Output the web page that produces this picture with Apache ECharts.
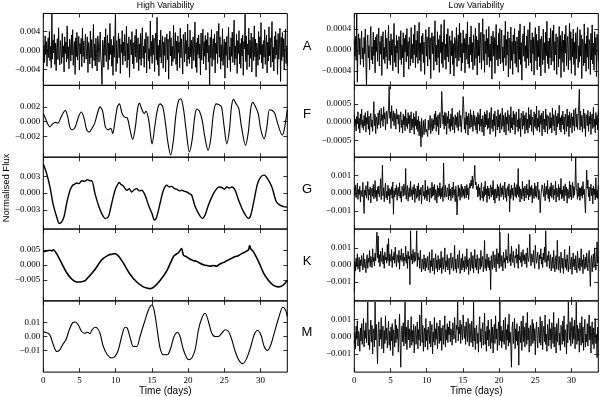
<!DOCTYPE html>
<html>
<head>
<meta charset="utf-8">
<script src="https://cdn.jsdelivr.net/npm/echarts@6/dist/echarts.min.js"></script>
<style>
html, body { margin: 0; padding: 0; background: #fff; }
#main { width: 600px; height: 397px; }
</style>
</head>
<body>
<div id="main"></div>
<script>
// time span of the light curves (days)
var T_END = 33.7;
var xTicks = [0, 5, 10, 15, 20, 25, 30];

// High variability, star A: noise, evenly sampled, units of 1e-4
var highA = [
  -64, 12, -25, 31, -8, 19, -33, 4, 27, -15, 40, -21, 9, -36, 78, -18, 22, -5, 34, -29,
  16, -42, 7, 25, -19, 48, -11, -30, 21, 3, -27, 36, -14, 10, -45, 29, -6, 18, -24, 52,
  -17, 8, -38, 24, 13, -22, 33, -9, 44, -31, 2, 19, -50, 27, -13, 38, -20, 6, 30, -41,
  15, -7, 26, -34, 47, -12, 20, -26, 11, 35, -18, -3, 29, -46, 17, 4, -28, 41, -15, 23,
  -37, 9, 55, -21, 14, -32, 26, -6, -43, 31, 18, -24, 7, 39, -16, -29, -71, 22, 12, -35,
  28, -10, 46, -23, 5, 33, -40, 16, -19, 57, -8, 24, -33, 11, -52, 30, -14, 20, 80, -44,
  21, -27, 3, 37, -15, 25, -48, 13, -4, 42, -30, 18, -11, 34, -22, 8, 51, -36, 15, -19,
  29, -56, 10, 23, -9, 40, -28, 17, -38, 6, 32, -13, 45, -25, 2, 27, -42, 14, -18, 36,
  -31, 20, 48, -16, 9, -35, 24, -5, 38, -47, 13, 30, -21, 4, -39, 62, -12, 19, -27, 33,
  -8, 26, -44, 15, 37, -20, 70, -30, 11, -53, 22, -14, 43, -26, 7, 31, -37, 18, -10, 28,
  -45, 12, 35, -19, 24, -60, 16, 41, -11, 27, -32, 9, -23, 53, -17, 6, 38, -29, 20, -42,
  31, -4, 18, -36, 47, -15, 25, -9, -49, 34, 12, -24, 39, -7, 21, -33, 56, -18, 8, -27,
  43, -13, 22, -38, 10, 29, -21, 4, 60, -35, 17, -46, 26, -8, 33, -16, 14, -51, 37, -20,
  9, 45, -28, 19, -12, 32, -41, 23, -5, 38, -24, 11, -75, 28, -15, 44, -33, 7, 25, -19,
  35, -47, 16, -6, 41, -27, 20, 57, -14, 29, -39, 12, -22, 46, -31, 3, 24, -58, 18, -10,
  30, -36, 13, 49, -20, 8, -44, 27, -12, 39, -25, 17, 64, -30, 10, -17, 35, -48, 21, -6,
  42, -28, 15, -37, 26, -11, 33, -52, 19, 4, 78, -23, 31, -40, 14, -9, 47, -34, 22, -16,
  37, -45, 10, 28, -21, 52, -13, 24, -55, 16, 6, -31, 40, -19, 29, -8, 59, -26, 13, -38,
  21, -14, 44, -29, 9, 33, -47, 18, -22, 50, -11, 27, -35, 15, 61, -24, 7, -43, 30, -17,
  40, -9, 23, -50, 36, -18, 12, 47, -65, 28, -21, 38, -13, 25, -40, 16, 45, -27, 10, -33
];

// High variability F, G, K, M: [day, flux in 1e-4]
var highF = [
  [0,11],[0.23,6],[0.55,-2],[0.92,-7],[1.29,-3],[1.66,-1],[2.03,-2],[2.4,5],[2.76,12],[3.04,15],
  [3.36,7],[3.69,-8],[4.06,-11],[4.42,-7],[4.88,7],[5.25,13],[5.62,5],[5.99,-11],[6.36,-14],[6.73,-9],
  [7.1,-2],[7.47,11],[7.83,20],[8.2,14],[8.57,-7],[8.94,-11],[9.31,-9],[9.59,-16],[9.86,-2],[10.23,20],
  [10.51,24],[10.88,11],[11.24,6],[11.61,5],[11.98,-11],[12.35,-24],[12.72,-7],[13.0,16],[13.27,25],[13.64,16],
  [13.92,11],[14.19,14],[14.56,2],[14.84,-20],[15.02,-30],[15.39,-7],[15.76,16],[16.13,24],[16.5,20],[16.87,-2],
  [17.24,-30],[17.6,-45],[17.97,-25],[18.34,11],[18.71,29],[18.99,31],[19.35,18],[19.72,-11],[20.18,-41],[20.55,-25],
  [20.92,7],[21.2,17],[21.57,14],[21.94,2],[22.3,-20],[22.76,-39],[23.13,-23],[23.5,11],[23.87,24],[24.24,23],
  [24.61,20],[24.98,-7],[25.35,-30],[25.71,-11],[25.99,20],[26.27,30],[26.64,24],[27.0,18],[27.37,-7],[27.93,-32],
  [28.29,-16],[28.66,18],[28.94,26],[29.31,20],[29.68,11],[30.05,-11],[30.51,-23],[30.88,-7],[31.24,16],[31.61,15],
  [31.98,11],[32.35,-2],[33.0,-18],[33.27,-11],[33.7,16]
];
var highG = [
  [0,52],[0.46,35],[0.92,11],[1.38,-21],[1.84,-42],[2.21,-54],[2.49,-52],[2.86,-42],[3.23,-18],[3.69,5],
  [4.06,14],[4.35,16],[4.61,18],[4.95,17],[5.3,22],[5.7,21],[6.08,24],[6.4,22],[6.68,22],[7.14,-1],
  [7.6,-21],[8.06,-36],[8.53,-45],[8.99,-42],[9.45,-18],[9.91,5],[10.2,14],[10.5,19],[10.75,15],[10.97,14],
  [11.25,9],[11.52,5],[11.85,8],[12.21,2],[12.55,6],[12.9,8],[13.25,4],[13.59,5],[14.06,-4],[14.52,-21],
  [15.0,-36],[15.35,-48],[15.67,-42],[16.13,-18],[16.59,5],[17.05,14],[17.4,11],[17.74,12],[18.1,8],[18.43,7],
  [18.8,4],[19.12,5],[19.5,3],[19.82,2],[20.2,-1],[20.51,-4],[20.97,-24],[21.57,-39],[21.94,-45],[22.35,-39],
  [22.81,-21],[23.5,-1],[23.96,8],[24.3,11],[24.65,10],[25.0,7],[25.35,11],[25.7,9],[26.04,11],[26.5,5],
  [26.96,-12],[27.65,-33],[28.34,-45],[28.66,-39],[29.12,-12],[29.59,17],[30.05,29],[30.51,32],[30.97,26],[31.57,11],
  [32.17,-15],[32.63,-21],[33.18,-24],[33.7,-25]
];
var highK = [
  [0,44],[0.46,47],[0.92,49],[1.2,47],[1.38,51],[1.84,38],[2.53,6],[3.23,-26],[3.92,-47],[4.4,-55],
  [4.84,-57],[5.44,-55],[5.8,-52],[6.22,-41],[7.14,-15],[8.06,17],[8.99,33],[9.5,36],[9.91,38],[10.37,30],
  [11.06,6],[11.98,-31],[12.9,-57],[13.82,-73],[14.3,-77],[14.75,-79],[15.3,-73],[16.13,-52],[17.05,-20],[17.97,28],
  [18.3,35],[18.66,41],[19.1,55],[19.35,33],[19.8,27],[20.28,19],[20.7,15],[21.2,12],[21.7,5],[22.12,1],
  [22.6,-2],[23.04,-4],[23.5,-2],[23.96,-4],[24.3,2],[24.65,6],[25.1,11],[25.58,17],[26.0,22],[26.5,28],
  [26.95,31],[27.42,38],[27.9,44],[28.34,51],[28.5,65],[28.66,54],[29.03,44],[29.72,12],[30.41,-26],[31.11,-52],
  [31.8,-68],[32.49,-73],[33.09,-68],[33.7,-52]
];
var highM = [
  [0,35],[0.2,30],[0.37,28],[0.69,23],[1.01,0],[1.38,-58],[1.84,-105],[2.21,-98],[2.67,-58],[3.13,-23],
  [3.59,47],[4.06,98],[4.42,102],[4.84,81],[5.3,35],[5.76,23],[6.0,30],[6.22,28],[6.45,20],[6.68,42],
  [7.14,65],[7.47,58],[7.83,23],[8.29,-70],[8.85,-128],[9.45,-151],[9.91,-140],[10.37,-93],[10.83,0],[11.29,65],
  [11.61,58],[12.07,-23],[12.44,-70],[12.9,-70],[13.36,0],[13.92,93],[14.52,186],[14.98,221],[15.3,186],[15.67,70],
  [16.13,-81],[16.59,-128],[17.14,-128],[17.6,-81],[18.06,0],[18.53,28],[18.89,0],[19.35,-93],[20.05,-163],[20.51,-151],
  [20.97,-93],[21.43,47],[21.89,128],[22.35,163],[22.81,105],[23.27,23],[23.73,0],[24.19,0],[24.65,23],[25.12,47],
  [25.58,35],[26.04,-23],[26.5,-105],[27.1,-174],[27.56,-191],[28.11,-151],[28.66,-70],[29.12,12],[29.59,42],[30.05,12],
  [30.51,-70],[30.97,-98],[31.43,-58],[31.89,23],[32.49,128],[33.09,205],[33.46,186],[33.7,140]
];

// Low variability: noise, evenly sampled, units of 1e-5
var lowA = [
  18, -12, 26, -20, 70, -62, 15, 31, -9, 22, -28, 11, 36, -17, 4, -33, 24, -7, 40, -25,
  -67, 13, 29, -15, 8, -38, 21, 45, -19, 6, -27, 34, -11, 19, -44, 25, -3, 30, -22, 12,
  42, -31, 16, -8, 27, -49, 14, 35, -18, 5, -26, 38, -13, 23, -36, 9, 47, -21, 17, -29,
  31, -10, 20, -40, 12, 51, -24, 8, -33, 28, -6, 18, -45, 26, 14, -19, 37, -28, 10, -15,
  33, -52, 22, -4, 29, -23, 41, -12, 16, -37, 24, 7, -30, 43, -17, 11, -25, 30, -9, 48,
  -34, 19, -14, 36, -26, 6, 53, -20, 13, -41, 27, -8, 32, -24, 15, -47, 21, 39, -12, 25,
  -31, 10, 44, -18, 23, -55, 17, 33, -7, 26, -39, 14, 56, -22, 9, -29, 35, -15, 20, -43,
  28, -5, 49, -26, 15, -34, 22, 58, -19, 11, -37, 30, -13, 41, -23, 7, 27, -46, 18, -11,
  37, -28, 12, -50, 24, 19, -16, 43, -32, 8, 29, -21, 51, -14, 33, -40, 13, -25, 38, -6,
  22, -44, 16, 31, -18, 54, -27, 10, -35, 25, -9, 46, -23, 14, -38, 29, 5, -30, 42, -16,
  26, -48, 19, -11, 52, -25, 13, 34, -37, 8, 60, -20, 30, -43, 17, -7, 39, -29, 22, -14,
  45, -33, 11, -21, 27, -56, 18, 36, -12, 24, -45, 15, 49, -19, 9, -31, 32, -17, 41, -27,
  13, 38, -24, 6, -40, 28, -15, 55, -30, 20, -10, 35, -52, 23, 12, -36, 44, -20, 16, -47,
  29, -8, 41, -26, 17, -33, 25, 10, -43, 37, -18, 50, -28, 14, -58, 22, 31, -12, 46, -22,
  8, -35, 27, -16, 39, -30, 12, 53, -25, 19, -41, 33, -7, 24, -48, 15, 43, -21, 30, -38,
  18, -13, 46, -32, 21, -50, 26, 9, -28, 40, -19, 14, -44, 34, -11, 55, -26, 17, -36, 23,
  -15, 42, -29, 12, 37, -22, 48, -39, 16, -9, 31, -47, 25, 20, -33, 45, -17, 28, -53, 11,
  36, -24, 19, -42, 30, -6, 47, -31, 14, 26, -38, 10, 51, -20, 35, -45, 22, -13, 40, -28,
  15, -49, 33, -17, 24, 44, -34, 8, -23, 39, -12, 29, -55, 21, 16, -30, 50, -25, 12, -41,
  27, -14, 43, -36, 20, 9, -47, 32, -19, 48, -27, 13, -39, 35, -10, 24, -51, 30, 18, -22
];
var lowF = [
  20, -12, 8, -25, 15, -5, 28, -18, 10, -30, 22, -8, 35, -15, 5, -22, 18, -10, 26, -28,
  12, -6, 30, -20, 16, -35, 9, 24, -14, 6, -26, 18, 56, -10, 21, -32, 14, 3, -18, 25,
  -8, 32, 12, -16, 38, 4, 20, -12, 42, 8, 26, -22, 15, 30, -5, 22, 36, 98, 10, 28,
  -18, 45, 14, 2, 30, -10, 24, 18, -20, 36, 8, 20, -6, 20, -28, 12, 28, -15, 6, -30,
  22, -8, 16, -24, 34, -12, 10, -18, 26, -5, 18, -30, 12, 28, -22, 8, -15, 24, -34, 14,
  -10, 30, -20, 6, -26, 16, -38, 2, -14, -68, 10, -42, -20, 4, -35, -12, 8, -28, -20, -15,
  -40, 5, -22, -8, 18, -32, -14, 10, -25, 6, -18, 22, -8, 30, -26, 14, -12, 20, -35, 8,
  26, -16, 12, 84, 36, -6, 18, -20, 28, -10, 24, -34, 15, -4, 30, -18, 8, -26, 22, -12,
  38, -22, 14, 6, -30, 20, -8, 14, -15, 26, -24, 10, 32, -12, 18, -28, 6, 22, 70, 40,
  -20, 12, -30, 28, -8, 16, -36, 24, 4, -18, 34, -14, 20, 8, -26, 30, -10, 18, 18, -22,
  14, -32, 26, -6, 20, -24, 36, -12, 8, -28, 18, 4, -38, 28, -14, 22, -8, 32, -20, 10,
  -16, 26, -34, 12, 40, -18, 6, -26, 22, -10, 30, -40, 16, 8, -22, 34, -14, 20, -30, 24,
  4, -20, 38, -12, 18, -28, 10, 26, -36, 14, -6, 32, -24, 20, 8, -30, 42, -16, 12, -22,
  30, -8, 22, -34, 16, 28, -14, 6, -26, 36, -18, 10, -40, 24, 14, -20, 30, -10, 18, -32,
  12, 26, -22, 8, -30, 40, -16, 20, -8, 34, -26, 14, 6, -36, 28, -12, 22, -18, 44, -24,
  10, -14, 32, -28, 18, -6, 24, -38, 14, 30, -20, 8, -28, 36, -10, 20, -32, 16, 6, -20,
  26, -16, 12, -30, 38, -10, 20, -24, 8, 32, -36, 16, -14, 24, -4, 46, -22, 12, -28, 18,
  -8, 30, -20, 14, -34, 22, 6, -26, 36, -12, 18, -40, 28, -16, 10, 24, -30, 14, -10, 34,
  -24, 16, 38, -14, 22, -20, 8, 48, 90, -22, 30, -12, 18, -28, 10, 36, -18, 24, -40, 14,
  20, -10, 32, -26, 16, -6, 28, -34, 12, 22, -18, 40, -14, 8, -30, 26, -8, 18, -22, 30
];
var lowG = [
  30, -15, 45, -25, 10, 55, -35, 20, -8, 38, -50, 15, 25, -20, 60, -30, -113, 18, -12, 42,
  -28, 8, 65, -40, 22, -10, 35, -55, 14, 28, -18, 48, -32, 6, 70, -24, 16, -45, 32, -6,
  40, -20, 12, 80, -36, 24, 155, -15, 30, -48, 18, 55, -26, 10, -38, 44, -14, 26, -58, 20,
  -10, 36, -30, 62, -117, 14, -22, 28, -8, 46, -40, 18, 32, -16, 58, -28, 10, -50, 38, 22,
  -18, 50, 24, -12, 137, -34, 15, 42, -45, 8, 30, -22, 66, -14, 20, -38, 35, -6, 48, -52,
  25, 12, -30, 40, -20, 55, -42, 18, -10, 32, -60, 24, 45, -16, 10, -35, 72, -25, 16, -44,
  38, -8, 22, -50, 30, 14, -28, 60, -18, 35, -12, 48, -40, 20, 6, -55, 42, -22, 28, -14,
  58, -32, 26, -20, 36, -46, 168, 12, -24, 44, -10, -22, 30, 18, -36, 52, -15, 24, -42, 10,
  34, -26, 62, -12, 20, -48, 38, -6, -122, -30, 45, -18, 28, -40, 16, 50, -24, 36, -14, 22,
  -30, 40, 12, -26, 48, -10, 30, -36, 20, 55, 30, 72, 40, 95, 25, 60, 88, 155, 45, 62,
  20, 38, -22, 50, -14, 30, -40, 16, 58, -28, 10, -45, 36, -18, 66, -8, 24, -52, 40, -16,
  28, -34, 14, 46, -22, 32, -10, 70, -38, 20, -56, 24, 12, -28, 48, -16, 36, -42, 18, 54,
  -20, 30, -8, 42, -36, 14, 62, -24, 26, -46, 10, 38, -14, 52, -104, 20, -30, 44, -12, 28,
  -40, 16, 58, -18, 32, -26, 48, -8, 137, -22, 36, -50, 24, 12, -34, 66, -16, 28, -44, 40,
  14, -28, 50, -10, 22, -38, 74, -20, 34, -12, 44, -54, 26, 8, -30, 56, -18, 40, -24, 16,
  62, -36, 20, -14, -109, -28, 12, 46, 32, 24, -20, 54, -42, 16, 38, -8, 70, -30, 22, -48,
  36, -16, 58, -26, 14, 44, -36, 20, -10, 66, -50, 28, 12, -22, 48, -40, 30, -6, 82, -32,
  18, -24, 40, -44, 26, 52, -14, 34, -56, 22, 10, -30, 66, -20, 46, -38, 16, 60, -26, 36,
  -12, 44, 198, 24, 8, -34, 56, -18, 30, -40, 28, -16, 38, -28, 64, -8, 22, -52, -110, 14,
  128, 26, 72, -20, 34, -44, 16, 50, -14, 28, -60, 40, -10, 24, -38, 86, -24, 18, -30, 46
];
var lowK = [
  -154, 20, -35, 40, -10, 65, -25, 15, 45, -40, 30, -5, 55, 10, -30, 70, -15, 35, 5, -45,
  25, 60, -20, 40, 15, 85, -10, 50, 30, -15, 95, 20, 45, -5, 70, 25, 110, 192, 40, 170,
  15, 60, -10, 80, 35, 20, 100, 5, 55, -20, 75, 30, 45, 10, 120, 25, 154, -5, 65, 40,
  20, 90, -15, 50, 30, 75, 10, 105, 35, -10, 60, 45, 15, 85, -25, 55, 30, 95, 20, 40,
  70, -5, 45, 25, 110, 10, 60, -20, 80, 35, 50, -115, 200, 30, 65, 5, 90, 40, 15, 75,
  25, 55, 200, -10, 70, 30, 45, -20, 85, 10, -40, 35, 15, -25, 60, 5, -35, 40, -15, 20,
  50, -30, 10, 75, -45, 25, -10, 90, -35, 15, 40, -55, 20, 65, -20, 30, -40, 55, 5, -30,
  35, -15, 80, -50, 20, 45, -25, 10, 100, -40, 25, -10, 60, -30, 15, 40, -55, 30, 70, -20,
  5, 45, -35, 20, 115, -25, 35, -45, 15, 60, -20, 30, 85, -50, 10, 40, -30, 65, -15, 25,
  -40, 50, 15, -25, 95, -10, 30, -55, 40, 20, -35, 75, 5, -20, 55, -45, 25, 90, -15, 35,
  -30, 60, 10, -50, 40, 20, -25, 85, -10, 30, 50, -40, 15, 144, -20, 35, -35, 65, 5, -15,
  45, -30, 25, -144, 55, 10, -25, 80, 35, -15, 60, 20, -40, 95, 30, 5, 70, -20, 192, 40,
  -10, 55, 25, -35, 75, 15, 40, -20, 90, 30, 50, 10, 183, 45, 20, 65, -5, 110, 35, 15,
  80, 25, -15, 55, 40, 95, 10, 60, -20, 120, 30, 50, 15, 75, -10, 45, 90, 25, 60, 5,
  35, 70, -15, 100, 40, 20, 55, 179, 30, -5, 65, 45, 15, 85, 25, -20, 115, 50, 10, 40,
  75, 20, -25, 60, 35, 95, 5, 45, -15, 70, 30, 105, 15, 200, 40, -10, 55, 25, 80, -20,
  30, 60, -35, 15, 45, -20, 85, 10, -40, 35, 55, -25, 144, 20, -30, 50, 5, -45, 75, 15,
  -20, 40, -50, 25, 90, -15, 35, -30, 60, 10, -40, 30, 110, -25, 15, 45, -55, 20, 70, -10,
  35, -30, 55, 5, -45, 80, 25, -20, 40, -35, 15, 95, -10, 30, -50, 60, 20, -25, 45, -15,
  70, 10, -35, 40, 85, -20, -125, 30, 55, -40, 20, 65, -15, 100, 25, -30, 50, 135, 10, 45
];
var lowM = [
  -40, 25, -70, 60, -15, 90, -55, 30, 10, -85, 50, -25, 75, -45, 20, 105, -60, 35, -10, 80,
  -35, 55, 200, -50, 40, -75, 15, 95, -30, 65, -100, 20, 45, -60, 200, -20, 70, -45, -158, 30,
  85, -55, 40, -15, 110, -70, 25, 60, -95, 35, -40, 120, -20, 50, -65, 15, 90, -50, 30, -80,
  55, -25, 75, -110, 40, 10, -60, 100, -35, 65, -15, 45, -90, 25, 130, -45, -177, 35, 60, -30,
  80, -55, 20, 200, -40, 55, -75, 30, 95, -20, 45, -65, 15, 115, -50, 35, -30, 70, -95, 25,
  60, -45, 10, 85, -70, 40, -20, 125, -55, 30, 200, -35, 65, -85, 20, 50, -60, 105, -25, 40,
  -75, 55, 15, -40, 90, -60, 35, 70, -100, 25, -30, 110, -50, 45, -15, 80, -70, 20, 60, -40,
  95, -25, 50, -80, 30, 65, -45, 15, 120, -60, 40, -20, 75, -35, 55, 10, 90, -30, 45, 25,
  -50, 80, 35, -15, 110, 20, -35, 65, 40, 200, -25, 55, 15, 95, -40, 70, 30, -20, 125, 45,
  -10, 60, -45, 85, 25, -30, 105, 40, -55, 75, 20, -35, 90, 15, -60, 200, -25, 50, -75, 35,
  65, -40, 20, -90, 55, 115, -30, 45, -65, 25, 80, -50, 10, 135, -45, 30, -85, 60, -20, 95,
  -55, 40, 15, -70, 100, -35, 55, -95, 25, 70, -40, 120, -15, 45, -80, 30, 85, -50, 200, -25,
  60, -65, 35, -30, 95, -45, 15, 110, -75, 40, -20, 70, -55, 130, -35, 25, -60, -177, 50, 85,
  -40, 20, 105, -70, 45, -25, 75, -50, 30, -165, 60, 15, -35, 90, -80, 40, 120, -30, 55, -60,
  25, 80, -45, 140, -20, 50, -90, 35, 65, -55, 15, 100, -40, 75, -25, 45, -105, 30, 85, -15,
  -65, 55, 20, -35, 115, -50, 40, 90, -75, 25, 60, -30, 125, -45, 15, -85, 70, 35, -55, 100,
  -20, 45, -70, 80, 30, -40, 140, -60, 55, 10, -95, 75, -30, 50, 105, -50, 20, -80, 65, 35,
  -45, 90, -25, 120, -60, 40, 15, -100, 70, -35, 200, 50, -20, 85, -55, 25, 110, -40, 60, -15,
  95, -70, 30, 200, -45, 65, -25, 45, -90, 80, 20, -50, 115, -35, 55, -80, 35, 100, -60, 15,
  -30, 75, -55, 40, 125, -20, 60, -95, 25, 85, -45, 50, -70, 30, 105, -40, 15, -121, 55, -25
];

// y tick values per panel
var highA_ticks = [-0.004, 0, 0.004];
var highF_ticks = [-0.002, 0, 0.002];
var highG_ticks = [-0.003, 0, 0.003];
var highK_ticks = [-0.005, 0, 0.005];
var highM_ticks = [-0.01, 0, 0.01];
var lowA_ticks = [-0.0004, 0, 0.0004];
var lowF_ticks = [-0.0005, 0, 0.0005];
var lowG_ticks = [-0.001, 0, 0.001];
var lowK_ticks = [-0.001, 0, 0.001];
var lowM_ticks = [-0.001, 0, 0.001];

var starLetters = ['A', 'F', 'G', 'K', 'M'];

// evenly sampled noise -> [t, v]
function evenSeries(arr, scale) {
  var n = arr.length;
  return arr.map(function (v, i) { return [i * T_END / (n - 1), v * scale]; });
}
function pairSeries(arr, scale) {
  return arr.map(function (p) { return [p[0], p[1] * scale]; });
}

var panels = [
  { col: 0, row: 0, data: evenSeries(highA, 1e-4), min: -0.0073, max: 0.0078, ticks: highA_ticks, dec: 3, w: 0.95 },
  { col: 0, row: 1, data: pairSeries(highF, 1e-4), min: -0.0048, max: 0.0049, ticks: highF_ticks, dec: 3, w: 1.1, smooth: 0.3 },
  { col: 0, row: 2, data: pairSeries(highG, 1e-4), min: -0.0064, max: 0.0064, ticks: highG_ticks, dec: 3, w: 1.4, smooth: 0.3 },
  { col: 0, row: 3, data: pairSeries(highK, 1e-4), min: -0.012, max: 0.012, ticks: highK_ticks, dec: 3, w: 1.6, smooth: 0.3 },
  { col: 0, row: 4, data: pairSeries(highM, 1e-4), min: -0.025, max: 0.025, ticks: highM_ticks, dec: 2, w: 1.1, smooth: 0.3 },
  { col: 1, row: 0, data: evenSeries(lowA, 1e-5), min: -0.00068, max: 0.0007, ticks: lowA_ticks, dec: 4, w: 0.95 },
  { col: 1, row: 1, data: evenSeries(lowF, 1e-5), min: -0.00097, max: 0.00101, ticks: lowF_ticks, dec: 4, w: 0.9 },
  { col: 1, row: 2, data: evenSeries(lowG, 1e-5), min: -0.002, max: 0.002, ticks: lowG_ticks, dec: 3, w: 0.9 },
  { col: 1, row: 3, data: evenSeries(lowK, 1e-5), min: -0.0021, max: 0.0021, ticks: lowK_ticks, dec: 3, w: 0.9 },
  { col: 1, row: 4, data: evenSeries(lowM, 1e-5), min: -0.00205, max: 0.00206, ticks: lowM_ticks, dec: 3, w: 0.9 }
];

var serifFont = 'Liberation Serif';
var sansFont = 'Liberation Sans';
var colLeft = [43.3, 354.3];
var plotW = 244;
var top0 = 13.5, plotH = 71.85;

var grids = [], xAxes = [], yAxes = [], series = [];
var tickStyle = { color: '#000', width: 0.8 };

panels.forEach(function (p, i) {
  grids.push({
    left: colLeft[p.col], top: top0 + p.row * plotH, width: plotW, height: plotH,
    show: true, borderColor: '#000', borderWidth: 1, backgroundColor: 'transparent'
  });
  var bottomRow = p.row === 4;
  // bottom and top x axes, ticks inside on both
  ['bottom', 'top'].forEach(function (pos) {
    xAxes.push({
      type: 'value', gridIndex: i, position: pos, min: 0, max: T_END,
      axisLine: { show: false, onZero: false },
      splitLine: { show: false },
      axisTick: { show: true, inside: true, length: 4, lineStyle: tickStyle, customValues: xTicks },
      axisLabel: {
        show: pos === 'bottom' && bottomRow, customValues: xTicks, margin: 4,
        color: '#000', fontFamily: serifFont, fontSize: 9
      },
      name: (pos === 'bottom' && bottomRow) ? 'Time (days)' : '',
      nameLocation: 'middle', nameGap: 13,
      nameTextStyle: { color: '#000', fontFamily: sansFont, fontSize: 10 }
    });
  });
  // left and right y axes
  ['left', 'right'].forEach(function (pos) {
    yAxes.push({
      type: 'value', gridIndex: i, position: pos, min: p.min, max: p.max,
      axisLine: { show: false, onZero: false },
      splitLine: { show: false },
      axisTick: { show: true, inside: true, length: 4, lineStyle: tickStyle, customValues: p.ticks },
      axisLabel: {
        show: pos === 'left', customValues: p.ticks, margin: 3,
        color: '#000', fontFamily: serifFont, fontSize: 9,
        formatter: (function (dec) {
          return function (v) { return v.toFixed(dec).replace('-', '\u2212'); };
        })(p.dec)
      }
    });
  });
  series.push({
    type: 'line', xAxisIndex: i * 2, yAxisIndex: i * 2,
    data: p.data, showSymbol: false, symbol: 'none',
    smooth: p.smooth || false, clip: true,
    lineStyle: { color: '#000', width: p.w },
    animation: false
  });
});

var letterY = [46, 114, 189, 261, 332];
var graphics = [];
function addText(x, y, text, size, rot) {
  graphics.push({
    type: 'text', x: x, y: y, rotation: rot || 0,
    style: { text: text, x: 0, y: 0, align: 'center', verticalAlign: 'middle', font: size + 'px ' + sansFont, fill: '#000' }
  });
}
addText(165.5, 6, 'High Variability', 8.7);
addText(476.3, 6, 'Low Variability', 8.7);
addText(6.5, 188, 'Normalised Flux', 9.5, Math.PI / 2);
starLetters.forEach(function (s, k) { addText(307, letterY[k], s, 13); });

var chart = echarts.init(document.getElementById('main'), null, { renderer: 'canvas' });
chart.setOption({
  animation: false,
  backgroundColor: '#fff',
  grid: grids,
  xAxis: xAxes,
  yAxis: yAxes,
  series: series,
  graphic: graphics
});
</script>
</body>
</html>
